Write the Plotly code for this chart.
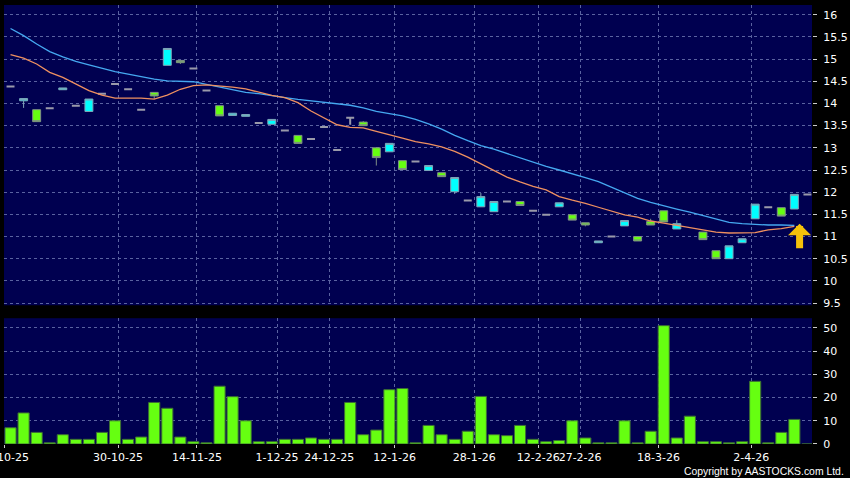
import plotly.graph_objects as go

# ---------------- data ----------------
idx = list(range(62))

opens = [14.38, 14.06, 13.86, 13.89, 14.31, 13.95, 13.82, 14.22, 14.44, 14.32,
         13.86, 14.25, 14.86, 14.97, 14.79, 14.29, 13.95, 13.73, 13.71, 13.56,
         13.53, 13.39, 13.28, 13.20, 13.47, 12.95, 13.68, 13.58, 13.00, 12.91,
         12.71, 12.69, 12.49, 12.44, 12.01, 11.81, 11.67, 11.56, 11.79, 11.79,
         11.58, 11.49, 11.67, 11.49, 11.31, 10.86, 11.00, 11.24, 11.00, 11.34,
         11.58, 11.17, None, 11.10, 10.68, 10.50, 10.86, 11.40, 11.66, 11.65,
         11.62, 11.95]
highs = [14.38, 14.11, 13.86, 13.89, 14.35, 13.95, 14.10, 14.22, 14.44, 14.32,
         13.86, 14.25, 15.24, 14.97, 14.79, 14.29, 13.95, 13.78, 13.75, 13.56,
         13.64, 13.39, 13.28, 13.20, 13.47, 12.95, 13.68, 13.60, 13.00, 13.10,
         12.71, 12.69, 12.60, 12.44, 12.33, 11.81, 11.98, 11.79, 11.79, 11.79,
         11.58, 11.49, 11.76, 11.49, 11.31, 10.90, 11.00, 11.36, 11.00, 11.40,
         11.58, 11.37, None, 11.10, 10.68, 10.79, 10.95, 11.73, 11.66, 11.65,
         11.95, 11.95]
lows = [14.38, 13.90, 13.59, 13.89, 14.31, 13.95, 13.82, 14.22, 14.44, 14.32,
        13.86, 14.10, 14.86, 14.89, 14.79, 14.29, 13.72, 13.73, 13.71, 13.56,
        13.53, 13.39, 13.10, 13.20, 13.47, 12.95, 13.52, 13.50, 12.60, 12.91,
        12.51, 12.69, 12.49, 12.35, 11.96, 11.81, 11.67, 11.56, 11.79, 11.70,
        11.58, 11.49, 11.67, 11.37, 11.23, 10.86, 11.00, 11.24, 10.90, 11.26,
        11.33, 11.17, None, 10.93, 10.50, 10.50, 10.86, 11.40, 11.66, 11.46,
        11.62, 11.95]
closes = [14.38, 14.11, 13.59, 13.89, 14.35, 13.95, 14.10, 14.22, 14.44, 14.32,
          13.86, 14.17, 15.24, 14.92, 14.79, 14.29, 13.72, 13.78, 13.75, 13.56,
          13.64, 13.39, 13.10, 13.20, 13.47, 12.95, 13.68, 13.50, 12.78, 13.10,
          12.51, 12.69, 12.60, 12.35, 12.33, 11.81, 11.90, 11.79, 11.79, 11.70,
          11.58, 11.49, 11.76, 11.37, 11.26, 10.90, 11.00, 11.36, 10.90, 11.26,
          11.33, 11.29, None, 10.93, 10.50, 10.79, 10.95, 11.73, 11.66, 11.46,
          11.95, 11.95]

volumes = [7.0, 13.4, 5.0, 0.5, 4.0, 2.0, 2.0, 5.0, 10.0, 2.0,
           3.0, 17.9, 15.4, 3.0, 1.0, 0.5, 24.9, 20.4, 10.0, 1.0,
           1.0, 2.0, 2.0, 2.6, 2.0, 2.0, 17.9, 4.0, 6.0, 23.4,
           23.9, 0.5, 8.0, 4.0, 2.0, 5.5, 20.5, 4.0, 3.6, 8.0,
           2.0, 1.0, 1.5, 10.0, 2.6, 0.5, 0.5, 10.0, 0.5, 5.5,
           51.0, 2.6, 12.0, 1.0, 1.0, 0.5, 1.0, 27.0, 0.5, 5.0,
           10.6, 0.0]

ma_slow = [15.69, 15.53, 15.34, 15.17, 15.05, 14.95, 14.87, 14.79, 14.72, 14.66,
           14.60, 14.55, 14.51, 14.50, 14.49, 14.43, 14.37, 14.30, 14.25, 14.22,
           14.17, 14.13, 14.09, 14.06, 14.02, 13.99, 13.96, 13.90, 13.82, 13.77,
           13.72, 13.64, 13.54, 13.42, 13.28, 13.16, 13.05, 12.97, 12.87, 12.77,
           12.67, 12.58, 12.50, 12.42, 12.33, 12.24, 12.11, 11.98, 11.86, 11.77,
           11.69, 11.62, 11.55, 11.47, 11.39, 11.32, 11.29, 11.27, 11.26, 11.26,
           11.25]
ma_fast = [15.10, 15.02, 14.89, 14.70, 14.59, 14.44, 14.29, 14.19, 14.12, 14.12,
           14.12, 14.10, 14.19, 14.32, 14.40, 14.42, 14.40, 14.37, 14.33, 14.25,
           14.18, 14.13, 14.02, 13.83, 13.67, 13.52, 13.46, 13.45, 13.37, 13.30,
           13.22, 13.14, 13.09, 13.02, 12.92, 12.79, 12.64, 12.48, 12.34, 12.23,
           12.13, 12.05, 11.90, 11.82, 11.75, 11.66, 11.57, 11.49, 11.44, 11.35,
           11.30, 11.25, 11.21, 11.16, 11.10, 11.08, 11.08, 11.09, 11.15, 11.18,
           11.23]

date_tick_pos = [-0.5, 8.23, 14.27, 20.4, 24.4, 29.4, 35.5, 40.4, 43.6, 49.6, 56.7]
date_tick_text = ["16-10-25", "30-10-25", "14-11-25", "1-12-25", "24-12-25", "12-1-26",
                  "28-1-26", "12-2-26", "27-2-26", "18-3-26", "2-4-26"]
price_ticks = [9.5, 10, 10.5, 11, 11.5, 12, 12.5, 13, 13.5, 14, 14.5, 15, 15.5, 16]
vol_ticks = [0, 10, 20, 30, 40, 50]

# ---------------- split candles by direction ----------------
def pick(cond):
    o, h, l, c = [], [], [], []
    for i in idx:
        ok = opens[i] is not None and cond(opens[i], closes[i])
        o.append(opens[i] if ok else None)
        h.append(highs[i] if ok else None)
        l.append(lows[i] if ok else None)
        c.append(closes[i] if ok else None)
    return o, h, l, c

up = pick(lambda o, c: c > o)
down = pick(lambda o, c: c < o)
flat = pick(lambda o, c: c == o)

CYAN = "#00ffff"
LIME = "#66ff11"
GRID = "#5a62a0"
BG = "#000050"

fig = go.Figure()

fig.add_trace(go.Candlestick(
    x=idx, open=up[0], high=up[1], low=up[2], close=up[3],
    increasing=dict(fillcolor=CYAN, line=dict(color="#7fa6b8", width=1)),
    decreasing=dict(fillcolor=CYAN, line=dict(color="#7fa6b8", width=1)),
    whiskerwidth=0, showlegend=False, xaxis="x", yaxis="y"))
fig.add_trace(go.Candlestick(
    x=idx, open=down[0], high=down[1], low=down[2], close=down[3],
    increasing=dict(fillcolor=LIME, line=dict(color="#7f8f86", width=1)),
    decreasing=dict(fillcolor=LIME, line=dict(color="#7f8f86", width=1)),
    whiskerwidth=0, showlegend=False, xaxis="x", yaxis="y"))
fig.add_trace(go.Candlestick(
    x=idx, open=flat[0], high=flat[1], low=flat[2], close=flat[3],
    increasing=dict(fillcolor="#9a9aaa", line=dict(color="#9a9aaa", width=2)),
    decreasing=dict(fillcolor="#9a9aaa", line=dict(color="#9a9aaa", width=2)),
    whiskerwidth=0, showlegend=False, xaxis="x", yaxis="y"))

fig.add_trace(go.Scatter(x=idx[:len(ma_slow)], y=ma_slow, mode="lines",
                         line=dict(color="#45a8f0", width=1.3),
                         showlegend=False, hoverinfo="skip", xaxis="x", yaxis="y"))
fig.add_trace(go.Scatter(x=idx[:len(ma_fast)], y=ma_fast, mode="lines",
                         line=dict(color="#ee9060", width=1.3),
                         showlegend=False, hoverinfo="skip", xaxis="x", yaxis="y"))

fig.add_trace(go.Bar(x=idx, y=volumes, marker=dict(color=LIME, line=dict(color="#3d6e35", width=1)),
                     showlegend=False, xaxis="x2", yaxis="y2"))

axis_common = dict(showgrid=True, gridcolor=GRID, griddash="3px,3px", gridwidth=1,
                   zeroline=False, showline=False, automargin=False)

fig.update_layout(
    width=850, height=478,
    paper_bgcolor="black", plot_bgcolor=BG,
    margin=dict(l=4, r=38, t=5, b=34, autoexpand=False),
    font=dict(family="DejaVu Sans", size=11, color="white"),
    boxgap=0.13, bargap=0.15,
    showlegend=False,
    xaxis=dict(domain=[0, 1], anchor="y", range=[-0.5, 61.35],
               tickmode="array", tickvals=date_tick_pos, showticklabels=False,
               ticks="", rangeslider=dict(visible=False), **axis_common),
    yaxis=dict(domain=[0.316, 1], anchor="x", side="right", range=[9.45, 16.22],
               tickmode="array", tickvals=price_ticks,
               ticktext=[("%g" % v) for v in price_ticks],
               ticks="outside", ticklen=4, tickcolor="#cccccc",
               ticklabelstandoff=4, **axis_common),
    xaxis2=dict(domain=[0, 1], anchor="y2", matches="x", range=[-0.5, 61.35],
                tickmode="array", tickvals=date_tick_pos, ticktext=date_tick_text,
                ticks="outside", ticklen=3, tickcolor="#cccccc", tickangle=0,
                ticklabeloverflow="allow", **axis_common),
    yaxis2=dict(domain=[0, 0.2865], anchor="x2", side="right", range=[0, 54.2],
                tickmode="array", tickvals=vol_ticks,
                ticks="outside", ticklen=4, tickcolor="#cccccc",
                ticklabelstandoff=4, **axis_common),
)

fig.add_annotation(x=60.4, y=11.29, xref="x", yref="y", text="",
                   showarrow=True, ax=0, ay=26, arrowhead=1, arrowwidth=7,
                   arrowsize=0.55, arrowcolor="#f5c20a", standoff=0)
fig.add_annotation(x=1.042, y=-0.063, xref="paper", yref="paper",
                   text="Copyright by AASTOCKS.com Ltd.", showarrow=False,
                   xanchor="right", yanchor="middle",
                   font=dict(family="Liberation Sans, Arial, sans-serif",
                             size=10.4, color="white"))

fig.write_html("out.html", config={"displayModeBar": False},
               post_script="document.body.style.margin='0';document.body.style.background='black';")
